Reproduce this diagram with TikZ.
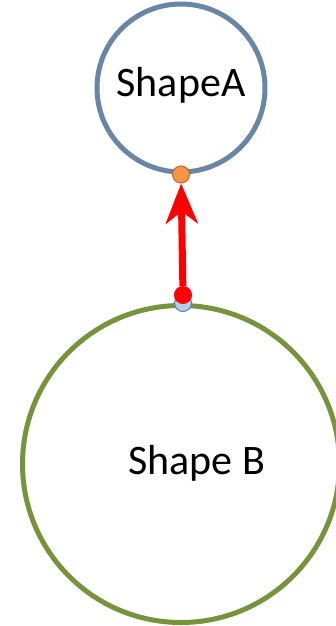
\documentclass[tikz,border=0pt]{standalone}
\usepackage{fontspec}
\setmainfont{Carlito}
\usepackage{tikz}
\usetikzlibrary{arrows.meta}

\definecolor{ringA}{RGB}{106,134,166}
\definecolor{ringB}{RGB}{119,147,60}
\definecolor{dotorange}{RGB}{247,150,70}
\definecolor{dotorangeline}{RGB}{190,105,40}
\definecolor{dotblue}{RGB}{185,205,229}
\definecolor{dotblueline}{RGB}{79,129,189}

\tikzset{
  shapering/.style={circle,fill=white,line width=5pt,text=black,inner sep=0pt,font=\fontsize{42}{50}\selectfont},
  gluedot/.style={circle,inner sep=0pt,minimum size=17pt,line width=1pt},
}

\begin{document}
\begin{tikzpicture}[x=1pt,y=1pt]
\useasboundingbox (0,0) rectangle (335,-626);
\node[shapering,draw=ringA,minimum size=168pt] (shapeA) at (181,-88) {};
\node (labelA) at (181,-85) {\fontsize{42}{50}\selectfont ShapeA};
\node[shapering,draw=ringB,minimum size=317pt] (shapeB) at (181,-464) {};
\node (labelB) at (196.5,-463) {\fontsize{42}{50}\selectfont Shape B};
\node[gluedot,fill=dotorange,draw=dotorangeline] (anchorA) at (shapeA.south) {};
\node[gluedot,fill=dotblue,draw=dotblueline] (anchorB) at ([xshift=2pt]shapeB.north) {};
\node[gluedot,fill=red,draw=red] (tail) at (183,-295) {};
\draw[-{Stealth[length=40pt,width=32pt,inset=12pt]},draw=red,fill=red,line width=7pt] (tail) -- (anchorA);
\end{tikzpicture}
\end{document}
